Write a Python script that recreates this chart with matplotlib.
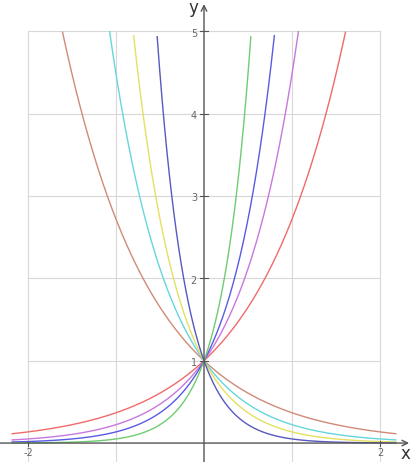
import numpy as np
import matplotlib
matplotlib.use("Agg")
import matplotlib.pyplot as plt

# growth / decay rates k for y = e^(k x)
rising_rates = [1.0, 1.5, 2.0, 3.0]
rising_colors = ["#f06a6a", "#c878dc", "#5a5ae6", "#70cc70"]
falling_rates = [-1.0, -1.5, -2.0, -3.0]
falling_colors = ["#d08a78", "#66d6dc", "#e4e060", "#5858c0"]

x_ticks = [-2, 2]
y_ticks = [1, 2, 3, 4, 5]
grid_x = [-2, -1, 1, 2]
grid_y = [1, 2, 3, 4, 5]

fig = plt.figure(figsize=(4.11, 4.62), dpi=100)
ax = fig.add_axes([0, 0, 1, 1])
ax.set_xlim(-2.318, 2.352)
ax.set_ylim(-0.23, 5.38)
ax.axis("off")

grid_kw = dict(color="#d8d8d8", lw=0.8, zorder=1)
for gx in grid_x:
    ax.plot([gx, gx], [-0.3, 5], **grid_kw)
for gy in grid_y:
    ax.plot([-2, 2], [gy, gy], **grid_kw)

xs = np.linspace(-2.18, 2.18, 800)
for rates, colors in ((falling_rates, falling_colors), (rising_rates, rising_colors)):
    for k, c in zip(rates, colors):
        ys = np.exp(k * xs)
        ys = np.where(ys <= 5, ys, np.nan)
        ax.plot(xs, ys, color=c, lw=1.0, zorder=3)

axis_color = "#555555"
ax.annotate("", xy=(2.33, 0), xytext=(-2.318, 0),
            arrowprops=dict(arrowstyle="->", color=axis_color, lw=1.0,
                            shrinkA=0, shrinkB=0), zorder=4)
ax.annotate("", xy=(0, 5.33), xytext=(0, -0.3),
            arrowprops=dict(arrowstyle="->", color=axis_color, lw=1.0,
                            shrinkA=0, shrinkB=0), zorder=4)

for t in x_ticks:
    ax.plot([t, t], [-0.03, 0.03], color=axis_color, lw=0.8, zorder=4)
    ax.text(t, -0.06, str(t), ha="center", va="top", fontsize=7,
            color="#666666")
for t in y_ticks:
    ax.plot([-0.04, 0.04], [t, t], color=axis_color, lw=0.8, zorder=4)
    ax.text(-0.08, t - 0.03, str(t), ha="right", va="center", fontsize=7,
            color="#666666")

ax.text(-0.06, 5.28, "y", ha="right", va="center", fontsize=12, color="#333333")
ax.text(2.34, -0.13, "x", ha="right", va="center", fontsize=12, color="#333333")

fig.savefig("out.png", dpi=100)
